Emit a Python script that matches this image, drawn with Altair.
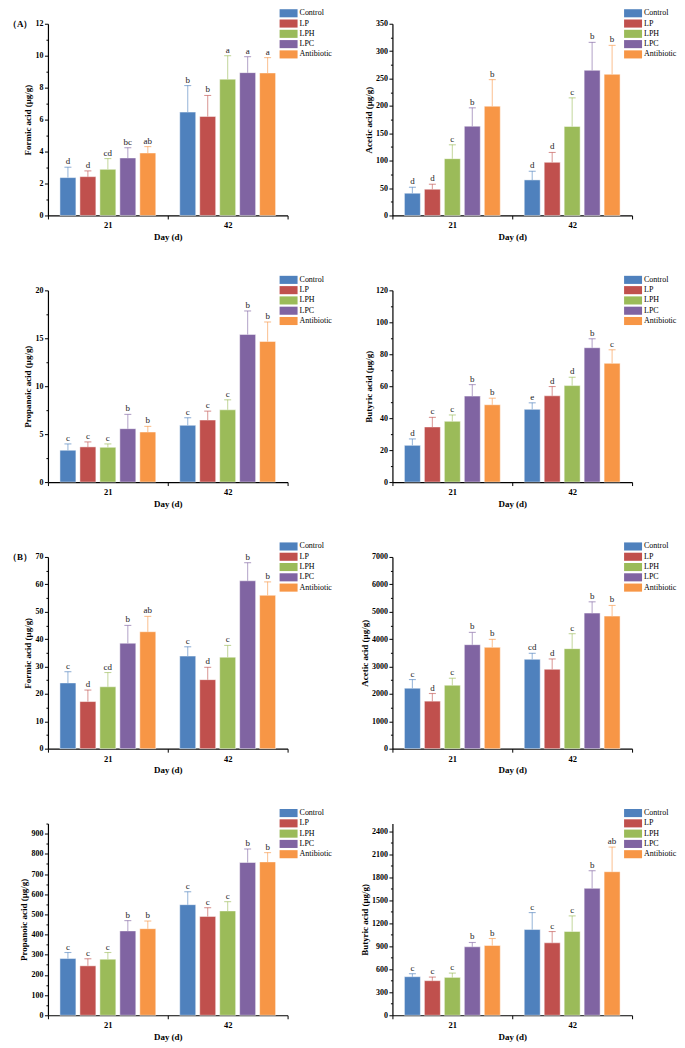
import altair as alt
import pandas as pd

groups = ["Control", "LP", "LPH", "LPC", "Antibiotic"]
days = ["21", "42"]
colors = ["#4F81BD", "#C0504D", "#9BBB59", "#8064A2", "#F79646"]

# (A) Formic acid
formicA_21 = [2.37, 2.43, 2.89, 3.60, 3.91]
formicA_21_sd = [0.65, 0.36, 0.67, 0.64, 0.40]
formicA_21_let = ["d", "d", "cd", "bc", "ab"]
formicA_42 = [6.47, 6.20, 8.53, 8.94, 8.92]
formicA_42_sd = [1.66, 1.31, 1.47, 1.00, 0.96]
formicA_42_let = ["b", "b", "a", "a", "a"]

# (A) Acetic acid
aceticA_21 = [40.6, 47.9, 103.7, 163.0, 199.5]
aceticA_21_sd = [10.9, 9.1, 25.3, 33.5, 48.5]
aceticA_21_let = ["d", "d", "c", "b", "b"]
aceticA_42 = [64.9, 97.0, 162.5, 265.0, 257.7]
aceticA_42_sd = [15.8, 18.0, 52.2, 51.0, 52.8]
aceticA_42_let = ["d", "d", "c", "b", "b"]

# (A) Propanoic acid
propA_21 = [3.32, 3.67, 3.63, 5.57, 5.22]
propA_21_sd = [0.66, 0.52, 0.35, 1.49, 0.59]
propA_21_let = ["c", "c", "c", "b", "b"]
propA_42 = [5.92, 6.47, 7.54, 15.40, 14.67]
propA_42_sd = [0.79, 0.93, 1.04, 2.45, 2.03]
propA_42_let = ["c", "c", "c", "b", "b"]

# (A) Butyric acid
butA_21 = [23.0, 34.5, 38.0, 53.8, 48.4]
butA_21_sd = [4.0, 6.0, 4.0, 7.2, 4.1]
butA_21_let = ["d", "c", "c", "b", "b"]
butA_42 = [45.5, 54.0, 60.4, 84.1, 74.3]
butA_42_sd = [4.1, 5.8, 5.2, 5.6, 8.5]
butA_42_let = ["e", "d", "d", "b", "c"]

# (B) Formic acid
formicB_21 = [24.0, 17.2, 22.6, 38.5, 42.7]
formicB_21_sd = [4.1, 4.2, 5.2, 6.5, 5.6]
formicB_21_let = ["c", "d", "cd", "b", "ab"]
formicB_42 = [33.8, 25.2, 33.4, 61.3, 56.0]
formicB_42_sd = [3.4, 4.5, 4.3, 6.6, 4.9]
formicB_42_let = ["c", "d", "c", "b", "b"]

# (B) Acetic acid
aceticB_21 = [2208, 1735, 2317, 3797, 3700]
aceticB_21_sd = [315, 279, 255, 449, 291]
aceticB_21_let = ["c", "d", "c", "b", "b"]
aceticB_42 = [3263, 2899, 3652, 4950, 4840]
aceticB_42_sd = [219, 377, 546, 412, 389]
aceticB_42_let = ["cd", "d", "c", "b", "b"]

# (B) Propanoic acid
propB_21 = [281, 245, 278, 418, 429]
propB_21_sd = [30, 35, 33, 51, 38]
propB_21_let = ["c", "c", "c", "b", "b"]
propB_42 = [548, 490, 517, 757, 760]
propB_42_sd = [64, 43, 46, 67, 46]
propB_42_let = ["c", "c", "c", "b", "b"]

# (B) Butyric acid
butB_21 = [503, 451, 494, 893, 910]
butB_21_sd = [39, 47, 56, 56, 91]
butB_21_let = ["c", "c", "c", "b", "b"]
butB_42 = [1118, 945, 1092, 1655, 1872]
butB_42_sd = [221, 147, 204, 230, 321]
butB_42_let = ["c", "c", "c", "b", "ab"]

FONT = "Liberation Serif"
W, H = 240, 192


def make_panel(ytitle, m21, s21, l21, m42, s42, l42, ymax, ystep, yminor, tag=None):
    rows = []
    for day, ms, ss, ls in [("21", m21, s21, l21), ("42", m42, s42, l42)]:
        for g, m, s, l in zip(groups, ms, ss, ls):
            rows.append({"day": day, "group": g, "mean": m, "upper": m + s, "letter": l})
    df = pd.DataFrame(rows)

    n = int(round(ymax / yminor))
    vals = [i * yminor for i in range(n + 1) if i * yminor <= ymax]
    test = f"datum.value % {ystep} === 0"

    yaxis = alt.Axis(
        values=vals, format="d", labelExpr=f"{test} ? datum.label : ''",
        labelOverlap=False,
        tickSize={"condition": {"test": test, "value": 3.5}, "value": 2},
        grid=False, domainColor="black", domainWidth=1.2, tickColor="black",
        tickWidth=1, labelFont=FONT, labelFontSize=8, labelFontWeight="bold",
        labelPadding=1.5, labelColor="black", titleFont=FONT, titleFontSize=9,
        titleFontWeight="bold", titleColor="black", titlePadding=2,
    )
    xaxis = alt.Axis(
        title="Day (d)", labelAngle=0, tickBand="extent", grid=False,
        domainColor="black", domainWidth=1.2, tickColor="black", tickSize=3.5,
        labelFont=FONT, labelFontSize=8.5, labelFontWeight="bold", labelColor="black",
        labelPadding=2, titleFont=FONT, titleFontSize=9, titleFontWeight="bold",
        titleColor="black", titlePadding=3,
    )

    x = alt.X("day:N", sort=days, axis=xaxis,
              scale=alt.Scale(paddingInner=0, paddingOuter=0))
    xo = alt.XOffset("group:N", sort=groups,
                     scale=alt.Scale(paddingInner=0.2, paddingOuter=0.6))
    yscale = alt.Scale(domain=[0, ymax], nice=False, zero=True)

    def Y(field):
        return alt.Y(field, title=ytitle, scale=yscale, axis=yaxis)

    base = alt.Chart(df)
    bars = base.mark_bar(stroke="white", strokeWidth=0.8, strokeOpacity=0.6).encode(
        x=x, xOffset=xo,
        y=Y("mean:Q"),
        color=alt.Color(
            "group:N", sort=groups,
            scale=alt.Scale(domain=groups, range=colors),
            legend=alt.Legend(
                orient="none", legendX=236.5, legendY=-15, title=None,
                symbolType="M-2,-0.9L2,-0.9L2,0.9L-2,0.9Z", symbolSize=81,
                symbolStrokeWidth=0, symbolOpacity=1, labelFont=FONT,
                labelFontSize=8, labelColor="black", labelOffset=6.5,
                rowPadding=1.3, padding=0,
            ),
        ),
    )
    err = base.mark_rule(strokeWidth=1.1, strokeOpacity=0.55).encode(
        x=x, xOffset=xo,
        y=Y("mean:Q"), y2="upper:Q",
        stroke=alt.Stroke("group:N", scale=alt.Scale(domain=groups, range=colors), legend=None),
    )
    caps = base.mark_tick(thickness=1.1, size=7, opacity=0.6).encode(
        x=x, xOffset=xo,
        y=Y("upper:Q"),
        fill=alt.Fill("group:N", scale=alt.Scale(domain=groups, range=colors), legend=None),
    )
    txt = base.mark_text(font=FONT, fontSize=9, color="#222222", baseline="bottom", dy=-1).encode(
        x=x, xOffset=xo,
        y=Y("upper:Q"),
        text="letter:N",
    )
    layers = [bars, err, caps, txt]
    if tag is not None:
        tagc = alt.Chart(pd.DataFrame({"t": [tag]})).mark_text(
            font=FONT, fontSize=9, fontWeight="bold", align="left", baseline="middle", color="black"
        ).encode(x=alt.value(-40), y=alt.value(0), text="t:N")
        layers.append(tagc)
    return alt.layer(*layers).properties(width=W, height=H)


p1 = make_panel("Formic acid (μg/g)", formicA_21, formicA_21_sd, formicA_21_let,
                formicA_42, formicA_42_sd, formicA_42_let, 12, 2, 1, tag="（A）")
p2 = make_panel("Acetic acid (μg/g)", aceticA_21, aceticA_21_sd, aceticA_21_let,
                aceticA_42, aceticA_42_sd, aceticA_42_let, 350, 50, 25)
p3 = make_panel("Propanoic acid (μg/g)", propA_21, propA_21_sd, propA_21_let,
                propA_42, propA_42_sd, propA_42_let, 20, 5, 2.5)
p4 = make_panel("Butyric acid (μg/g)", butA_21, butA_21_sd, butA_21_let,
                butA_42, butA_42_sd, butA_42_let, 120, 20, 10)
p5 = make_panel("Formic acid (μg/g)", formicB_21, formicB_21_sd, formicB_21_let,
                formicB_42, formicB_42_sd, formicB_42_let, 70, 10, 5, tag="（B）")
p6 = make_panel("Acetic acid (μg/g)", aceticB_21, aceticB_21_sd, aceticB_21_let,
                aceticB_42, aceticB_42_sd, aceticB_42_let, 7000, 1000, 500)
p7 = make_panel("Propanoic acid (μg/g)", propB_21, propB_21_sd, propB_21_let,
                propB_42, propB_42_sd, propB_42_let, 950, 100, 50)
p8 = make_panel("Butyric acid (μg/g)", butB_21, butB_21_sd, butB_21_let,
                butB_42, butB_42_sd, butB_42_let, 2500, 300, 150)

chart = alt.concat(p1, p2, p3, p4, p5, p6, p7, p8, columns=2,
                   spacing={"row": 34, "column": 28}).resolve_scale(
    color="independent", y="independent", x="independent"
).properties(padding=0).configure_view(stroke=None).configure_axis(labelOverlap=False)

chart.save("out.html", embed_options={"renderer": "svg", "actions": False})
